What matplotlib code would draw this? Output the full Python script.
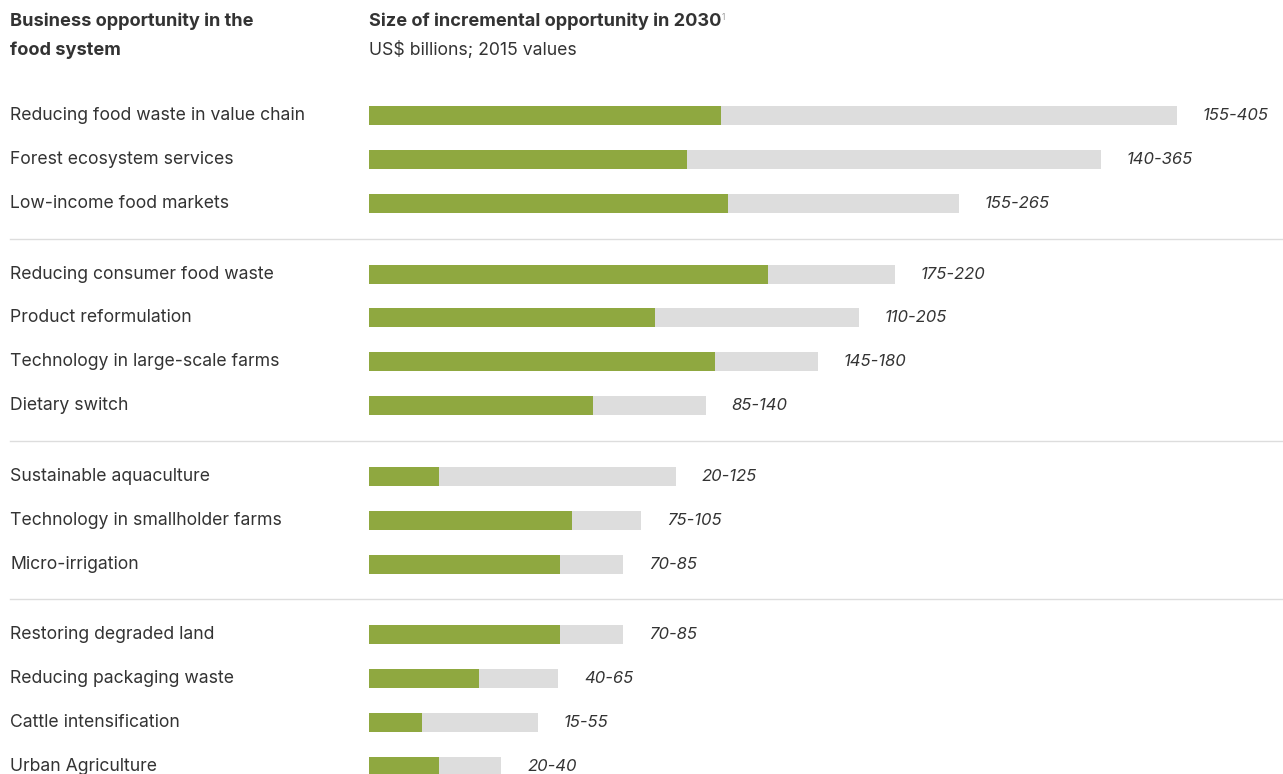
import matplotlib
matplotlib.use('Agg')
import matplotlib.pyplot as plt
import matplotlib.transforms as mtransforms
from matplotlib.lines import Line2D

plt.rcParams['font.family'] = ['Inter', 'DejaVu Sans']

categories = ['Reducing food waste in value chain', 'Forest ecosystem services',
              'Low-income food markets',
              'Reducing consumer food waste', 'Product reformulation',
              'Technology in large-scale farms', 'Dietary switch',
              'Sustainable aquaculture', 'Technology in smallholder farms',
              'Micro-irrigation',
              'Restoring degraded land', 'Reducing packaging waste',
              'Cattle intensification', 'Urban Agriculture']
groups = [0, 0, 0, 1, 1, 1, 1, 2, 2, 2, 3, 3, 3, 3]
range_labels = ['155-405', '140-365', '155-265', '175-220', '110-205', '145-180',
                '85-140', '20-125', '75-105', '70-85', '70-85', '40-65', '15-55',
                '20-40']
# bar lengths as drawn in the source graphic (not to scale with the labels)
low_bar = [176, 159, 179.5, 199.5, 143, 173, 112, 35, 101.5, 95.5, 95.5, 55, 26.5, 35]
high_bar = [404, 366, 295, 263, 245, 224.5, 168.5, 153.5, 136, 127, 127, 94.5, 84.5, 66]

W, H = 1283, 774
fig = plt.figure(figsize=(W / 100, H / 100), dpi=100)

row_px = 43.85
gap = 0.615
ypos = [i + g * gap for i, g in enumerate(groups)]
y0 = 115.5
ax = fig.add_axes([369 / W, 0, (W - 369) / W, 1])
ax.set_xlim(0, (W - 369) / 2)
ax.set_ylim((H - y0) / row_px, -y0 / row_px)
ax.axis('off')

green = '#8FA840'
grey = '#DDDDDD'
txt = '#333333'
bh = 19 / row_px
ax.barh(ypos, high_bar, height=bh, color=grey, linewidth=0)
ax.barh(ypos, low_bar, height=bh, color=green, linewidth=0)

for y, v, lab in zip(ypos, high_bar, range_labels):
    ax.text(v + 13, y, lab, ha='left', va='center', fontsize=12, style='italic',
            color=txt)

blend = mtransforms.blended_transform_factory(fig.transFigure, ax.transData)
for y, cat in zip(ypos, categories):
    ax.text(10 / W, y, cat, transform=blend, ha='left', va='center', fontsize=12.7,
            color=txt)

# separators between groups
for g in range(1, 4):
    last = max(y for y, gg in zip(ypos, groups) if gg == g - 1)
    first = min(y for y, gg in zip(ypos, groups) if gg == g)
    ysep = (last + first) / 2
    fig.add_artist(Line2D([10 / W, 1], [ysep, ysep], transform=blend,
                          color='#DDDDDD', linewidth=1))

fig.text(10 / W, 1 - 21 / H, 'Business opportunity in the', ha='left',
         va='center', fontsize=13.1, fontweight='bold', color=txt)
fig.text(10 / W, 1 - 50 / H, 'food system', ha='left',
         va='center', fontsize=13.1, fontweight='bold', color=txt)
fig.text(369 / W, 1 - 21 / H, 'Size of incremental opportunity in 2030', ha='left',
         va='center', fontsize=13.1, fontweight='bold', color=txt)
fig.text(722 / W, 1 - 17 / H, '1', ha='left', va='center', fontsize=6,
         color='#999999')
fig.text(369 / W, 1 - 50 / H, 'US$ billions; 2015 values', ha='left', va='center',
         fontsize=12.7, color=txt)

fig.savefig('out.png', dpi=100)
